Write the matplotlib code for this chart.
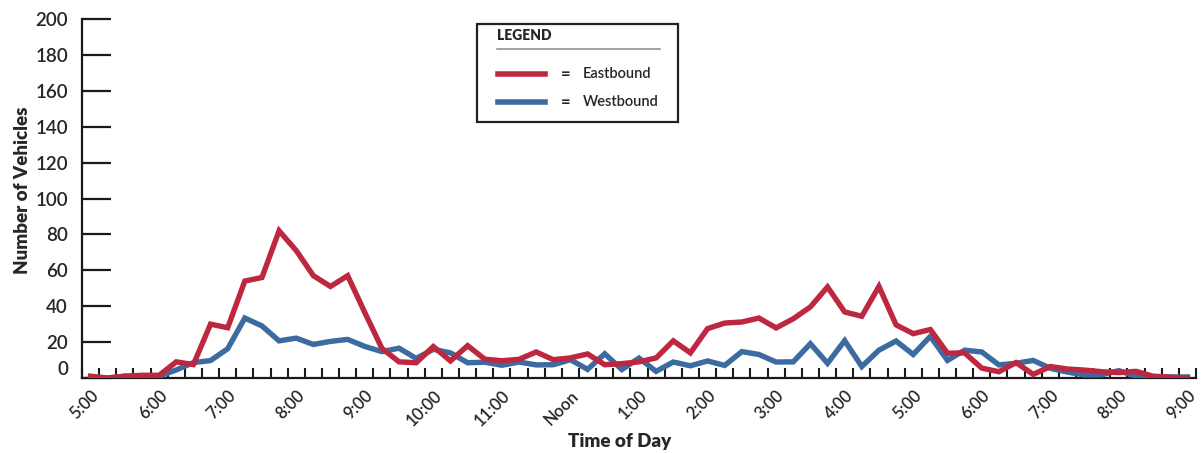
import numpy as np
import matplotlib
matplotlib.use('Agg')
from matplotlib import pyplot as plt
from matplotlib.lines import Line2D
from matplotlib.patches import Rectangle

hour_labels = ['5:00', '6:00', '7:00', '8:00', '9:00', '10:00', '11:00', 'Noon',
               '1:00', '2:00', '3:00', '4:00', '5:00', '6:00', '7:00', '8:00', '9:00']
y_ticks = [0, 20, 40, 60, 80, 100, 120, 140, 160, 180, 200]

# 15-minute counts, 5:00 AM to 9:00 PM
eastbound = [1, 0, 1, 1.5, 1.5, 9, 7.5, 30, 28, 54, 56, 82, 71, 57, 51, 57, 36.5,
             16.5, 9, 8.5, 17.5, 9.5, 18, 10.5, 9.6, 10.4, 14.5, 10.2, 11.2, 13.4,
             7.4, 8, 9, 11.2, 20.7, 14, 27.5, 30.6, 31.2, 33.4, 27.9, 33, 39.6, 50.7,
             36.8, 34.4, 51, 29.6, 24.7, 27, 13.8, 14, 5.5, 3.5, 8.6, 2, 6.4, 5, 4.4,
             3.5, 3, 3.7, 1, 0.5, 0]
westbound = [0, 0, 1, 1, 1, 4.5, 8.6, 9.7, 16.3, 33.4, 29, 20.7, 22.2, 18.7, 20.4,
             21.5, 17.6, 14.7, 16.6, 10.9, 16, 14, 8.5, 8.8, 7.1, 8.9, 7.3, 7.4, 10.2,
             4.8, 13.5, 4.7, 11.1, 3.7, 8.9, 6.8, 9.5, 7, 14.7, 13.1, 8.9, 9, 19.1,
             8.2, 20.8, 6.4, 15.5, 20.6, 13.1, 23.2, 9.8, 15.5, 14.5, 7.3, 8.2, 9.8,
             5.4, 3.3, 1.7, 1.8, 4.1, 0.9, 0.4, 0.5, 0.6]

red = '#bd2840'
blue = '#3c6ba2'
text_color = '#262626'
font = ['Lato', 'DejaVu Sans']

hours = np.arange(len(eastbound)) * 0.25

W, H = 1204, 453
fig = plt.figure(figsize=(W / 100, H / 100), dpi=100)
ax = fig.add_axes([82 / W, 1 - 378 / H, (1196 - 82) / W, (378 - 19) / H])

ax.plot(hours, westbound, color=blue, lw=3.9, solid_joinstyle='miter', zorder=3)
ax.plot(hours, eastbound, color=red, lw=3.9, solid_joinstyle='miter', zorder=4)

ax.set_xlim(-0.125, 16.125)
ax.set_ylim(0, 200)
for s in ['top', 'right']:
    ax.spines[s].set_visible(False)
for s in ['left', 'bottom']:
    ax.spines[s].set_linewidth(1.6)
    ax.spines[s].set_color('#1a1a1a')

ax.set_yticks(y_ticks)
ylabels = ax.set_yticklabels([str(v) for v in y_ticks], family=font, fontsize=13.5,
                             fontweight='semibold', color=text_color)
ylabels[0].set_verticalalignment('bottom')
ax.tick_params(axis='y', direction='in', length=21, width=1.6, pad=10, color='#1a1a1a')

ax.set_xticks(np.arange(len(hour_labels)))
ax.set_xticklabels(hour_labels, rotation=45, ha='right', rotation_mode='anchor',
                   family=font, fontsize=12, fontweight='semibold', color=text_color)
ax.set_xticks(-0.125 + 0.25 * np.arange(66), minor=True)
ax.tick_params(axis='x', which='major', length=0, pad=7)
ax.tick_params(axis='x', which='minor', direction='in', length=7, width=1.5, color='#1a1a1a')

fig.text(22 / W, 1 - 190 / H, 'Number of Vehicles', rotation=90, ha='center', va='center',
         family=font, fontsize=13.5, fontweight='heavy', color=text_color)
fig.text(620 / W, 1 - 441 / H, 'Time of Day', ha='center', va='center',
         family=font, fontsize=13.5, fontweight='heavy', color=text_color)

# hand-drawn legend box
fig.add_artist(Rectangle((477 / W, 1 - 122 / H), 201 / W, 98 / H, transform=fig.transFigure,
                         fill=False, lw=1.6, ec='#222222'))
fig.text(497 / W, 1 - 36 / H, 'LEGEND', ha='left', va='center',
         family=font, fontsize=10, fontweight='heavy', color=text_color)
fig.add_artist(Line2D([497 / W, 660 / W], [1 - 49 / H] * 2, transform=fig.transFigure,
                      color='#8a8a8a', lw=1.1))
for ypix, c, name in [(74, red, 'Eastbound'), (102, blue, 'Westbound')]:
    fig.add_artist(Line2D([498 / W, 545 / W], [1 - ypix / H] * 2, transform=fig.transFigure,
                          color=c, lw=4))
    fig.text(566 / W, 1 - ypix / H, '=', ha='center', va='center',
             family=font, fontsize=12, fontweight='bold', color=text_color)
    fig.text(583 / W, 1 - ypix / H, name, ha='left', va='center',
             family=font, fontsize=10.5, fontweight='semibold', color=text_color)

plt.savefig('out.png', dpi=100)
